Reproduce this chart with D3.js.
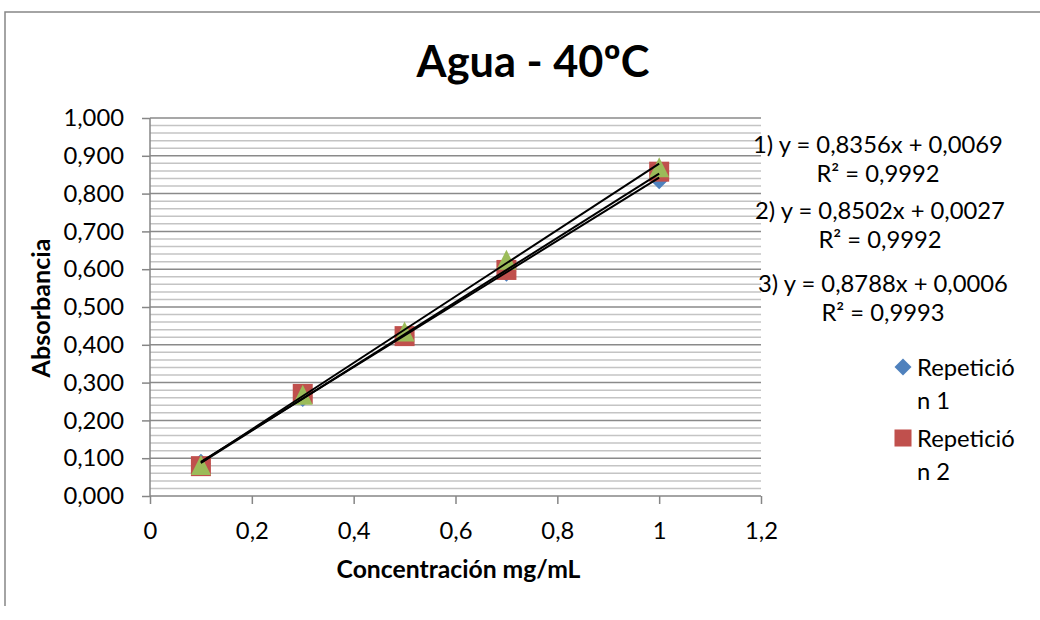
<!DOCTYPE html>
<html>
<head>
<meta charset="utf-8">
<script src="https://cdn.jsdelivr.net/npm/d3@7"></script>
<style>
  body { margin: 0; background: #fff; }
  svg { display: block; }
</style>
</head>
<body>
<svg id="chart" width="1040" height="620"></svg>
<script>
// Calibration data: absorbance vs concentration, three repetitions at 40 ºC
const concentrations = [0.1, 0.3, 0.5, 0.7, 1.0];
const rep1 = [0.085, 0.262, 0.425, 0.593, 0.838];
const rep2 = [0.079, 0.270, 0.423, 0.598, 0.858];
const rep3 = [0.082, 0.268, 0.435, 0.625, 0.870];
const seriesNames = ["Repetición 1", "Repetición 2", "Repetición 3"];

// Linear trendlines y = a·x + b
const slopes = [0.8356, 0.8502, 0.8788];
const intercepts = [0.0069, 0.0027, 0.0006];
const rSquared = [0.9992, 0.9992, 0.9993];

const xTicks = [0, 0.2, 0.4, 0.6, 0.8, 1, 1.2];
const yTicks = [0, 0.1, 0.2, 0.3, 0.4, 0.5, 0.6, 0.7, 0.8, 0.9, 1.0];
const yMinorStep = 0.02;

const titleText = "Agua - 40ºC";
const xTitle = "Concentración mg/mL";
const yTitle = "Absorbancia";

const series = [rep1, rep2, rep3];
const colors = ["#4F81BD", "#C0504D", "#9BBB59"];
const FONT = "Lato, 'Open Sans', sans-serif";

const svg = d3.select("#chart");
const W = 1040, H = 620;
const plot = { left: 150, right: 761, top: 118, bottom: 496 };

const es = d3.formatLocale({ decimal: ",", thousands: ".", grouping: [3], currency: ["", " €"] });
const fmtY = es.format(".3f");
const fmt4 = es.format(".4f");
const fmtX = v => es.format("~g")(v);

const x = d3.scaleLinear().domain([0, 1.2]).range([plot.left, plot.right]);
const y = d3.scaleLinear().domain([0, 1.0]).range([plot.bottom, plot.top]);

// Text size helper: find the font size giving a target width
function sizeFor(text, weight, width) {
  const t = svg.append("text").attr("font-family", FONT).attr("font-weight", weight)
    .attr("font-size", 100).text(text);
  const w = t.node().getComputedTextLength();
  t.remove();
  return 100 * width / w;
}
const baseSize = sizeFor("1) y = 0,8356x + 0,0069", 400, 250);
const titleSize = sizeFor(titleText, 700, 233);
const xTitleSize = sizeFor(xTitle, 700, 244);
const yTitleSize = sizeFor(yTitle, 700, 139);

// Outer chart frame
svg.append("path")
  .attr("d", `M5,${H - 14}V12H${W}`)
  .attr("fill", "none").attr("stroke", "#868686").attr("stroke-width", 1.5);

// Gridlines: minor then major
const minorVals = d3.range(0, 1.0001, yMinorStep).filter(v => Math.abs(v * 10 - Math.round(v * 10)) > 1e-6);
svg.append("g").selectAll("line").data(minorVals).join("line")
  .attr("x1", plot.left).attr("x2", plot.right)
  .attr("y1", d => y(d)).attr("y2", d => y(d))
  .attr("stroke", "#c4c4c4").attr("stroke-width", 1.5);

svg.append("g").selectAll("line").data(yTicks.filter(v => v > 0)).join("line")
  .attr("x1", plot.left).attr("x2", plot.right)
  .attr("y1", d => y(d)).attr("y2", d => y(d))
  .attr("stroke", "#8a8a8a").attr("stroke-width", 1.5);

// Axes
const yAxis = d3.axisLeft(y).tickValues(yTicks).tickFormat(fmtY).tickSize(8).tickPadding(18);
const xAxis = d3.axisBottom(x).tickValues(xTicks).tickFormat(fmtX).tickSize(8).tickPadding(18);

const gy = svg.append("g").attr("transform", `translate(${plot.left},0)`).call(yAxis);
const gx = svg.append("g").attr("transform", `translate(0,${plot.bottom})`).call(xAxis);
[gx, gy].forEach(g => {
  g.select(".domain").attr("stroke", "#868686").attr("stroke-width", 1.5);
  g.selectAll(".tick line").attr("stroke", "#868686").attr("stroke-width", 1.5);
  g.selectAll(".tick text").attr("font-family", FONT).attr("font-size", baseSize).attr("fill", "#000");
});
gx.select(".domain").attr("d", `M${plot.left},0H${plot.right}`);
gy.select(".domain").attr("d", `M0,${plot.bottom}V${plot.top}`);

// Marker shapes
const diamond = { draw(ctx, s) { const r = Math.sqrt(s) / 2; ctx.moveTo(0, -r); ctx.lineTo(r, 0); ctx.lineTo(0, r); ctx.lineTo(-r, 0); ctx.closePath(); } };
const square = { draw(ctx, s) { const r = Math.sqrt(s) / 2; ctx.rect(-r, -r, 2 * r, 2 * r); } };
const triangle = { draw(ctx, s) { const r = Math.sqrt(s) / 2; ctx.moveTo(0, -r); ctx.lineTo(r, r); ctx.lineTo(-r, r); ctx.closePath(); } };
const shapes = [diamond, square, triangle];
const markerSize = 400;

const gm = svg.append("g");
series.forEach((vals, i) => {
  gm.append("g").selectAll("path").data(vals.map((v, j) => [concentrations[j], v])).join("path")
    .attr("transform", d => `translate(${x(d[0])},${y(d[1])})`)
    .attr("d", d3.symbol().type(shapes[i]).size(markerSize))
    .attr("fill", colors[i]);
});

// Trendlines over the measured range
const xr = d3.extent(concentrations);
const line = d3.line().x(d => x(d[0])).y(d => y(d[1]));
svg.append("g").selectAll("path").data(slopes.map((a, i) => [a, intercepts[i]])).join("path")
  .attr("d", ([a, b]) => line(xr.map(v => [v, a * v + b])))
  .attr("fill", "none").attr("stroke", "#000").attr("stroke-width", 2);

// Trendline equations
const eqCx = [878, 880, 883];
const eqY = [144, 210, 283];
const eqGap = 29;
const ge = svg.append("g").attr("font-family", FONT).attr("font-size", baseSize)
  .attr("text-anchor", "middle").attr("dominant-baseline", "central");
slopes.forEach((a, i) => {
  ge.append("text").attr("x", eqCx[i]).attr("y", eqY[i])
    .text(`${i + 1}) y = ${fmt4(a)}x + ${fmt4(intercepts[i])}`);
  ge.append("text").attr("x", eqCx[i]).attr("y", eqY[i] + eqGap)
    .text(`R² = ${fmt4(rSquared[i])}`);
});

// Title
svg.append("text").attr("x", 533).attr("y", 77)
  .attr("text-anchor", "middle").attr("font-family", FONT).attr("font-weight", 700)
  .attr("font-size", titleSize).text(titleText);

// Axis titles
svg.append("text").attr("x", (plot.left + plot.right) / 2 + 3).attr("y", 578)
  .attr("text-anchor", "middle").attr("font-family", FONT).attr("font-weight", 700)
  .attr("font-size", xTitleSize).text(xTitle);
svg.append("text").attr("transform", `translate(50,${(plot.top + plot.bottom) / 2 + 1}) rotate(-90)`)
  .attr("text-anchor", "middle").attr("font-family", FONT).attr("font-weight", 700)
  .attr("font-size", yTitleSize).text(yTitle);

// Legend (narrow box, names wrap; the box clips what does not fit)
svg.append("clipPath").attr("id", "legend-clip")
  .append("rect").attr("x", 880).attr("y", 340).attr("width", 160).attr("height", 150);
const lg = svg.append("g").attr("clip-path", "url(#legend-clip)")
  .attr("font-family", FONT).attr("font-size", baseSize);
const legendTextX = 917, legendMaxW = 104, lineH = 33, entryTop = 367;

function wrap(text) {
  const probe = lg.append("text").attr("font-size", baseSize);
  const lines = [];
  let cur = "";
  for (const ch of text) {
    probe.text(cur + ch);
    if (probe.node().getComputedTextLength() > legendMaxW && cur) { lines.push(cur.trim()); cur = ch; }
    else cur += ch;
  }
  if (cur) lines.push(cur.trim());
  probe.remove();
  return lines;
}
const legendShapes = [diamond, square, triangle];
let yPos = entryTop;
seriesNames.forEach((name, i) => {
  const lines = wrap(name);
  lg.append("path").attr("transform", `translate(903,${yPos})`)
    .attr("d", d3.symbol().type(legendShapes[i]).size(290)).attr("fill", colors[i]);
  lines.forEach((ln, k) => {
    lg.append("text").attr("x", legendTextX).attr("y", yPos + k * lineH)
      .attr("dominant-baseline", "central").text(ln);
  });
  yPos += lines.length * lineH + 5;
});
</script>
</body>
</html>
